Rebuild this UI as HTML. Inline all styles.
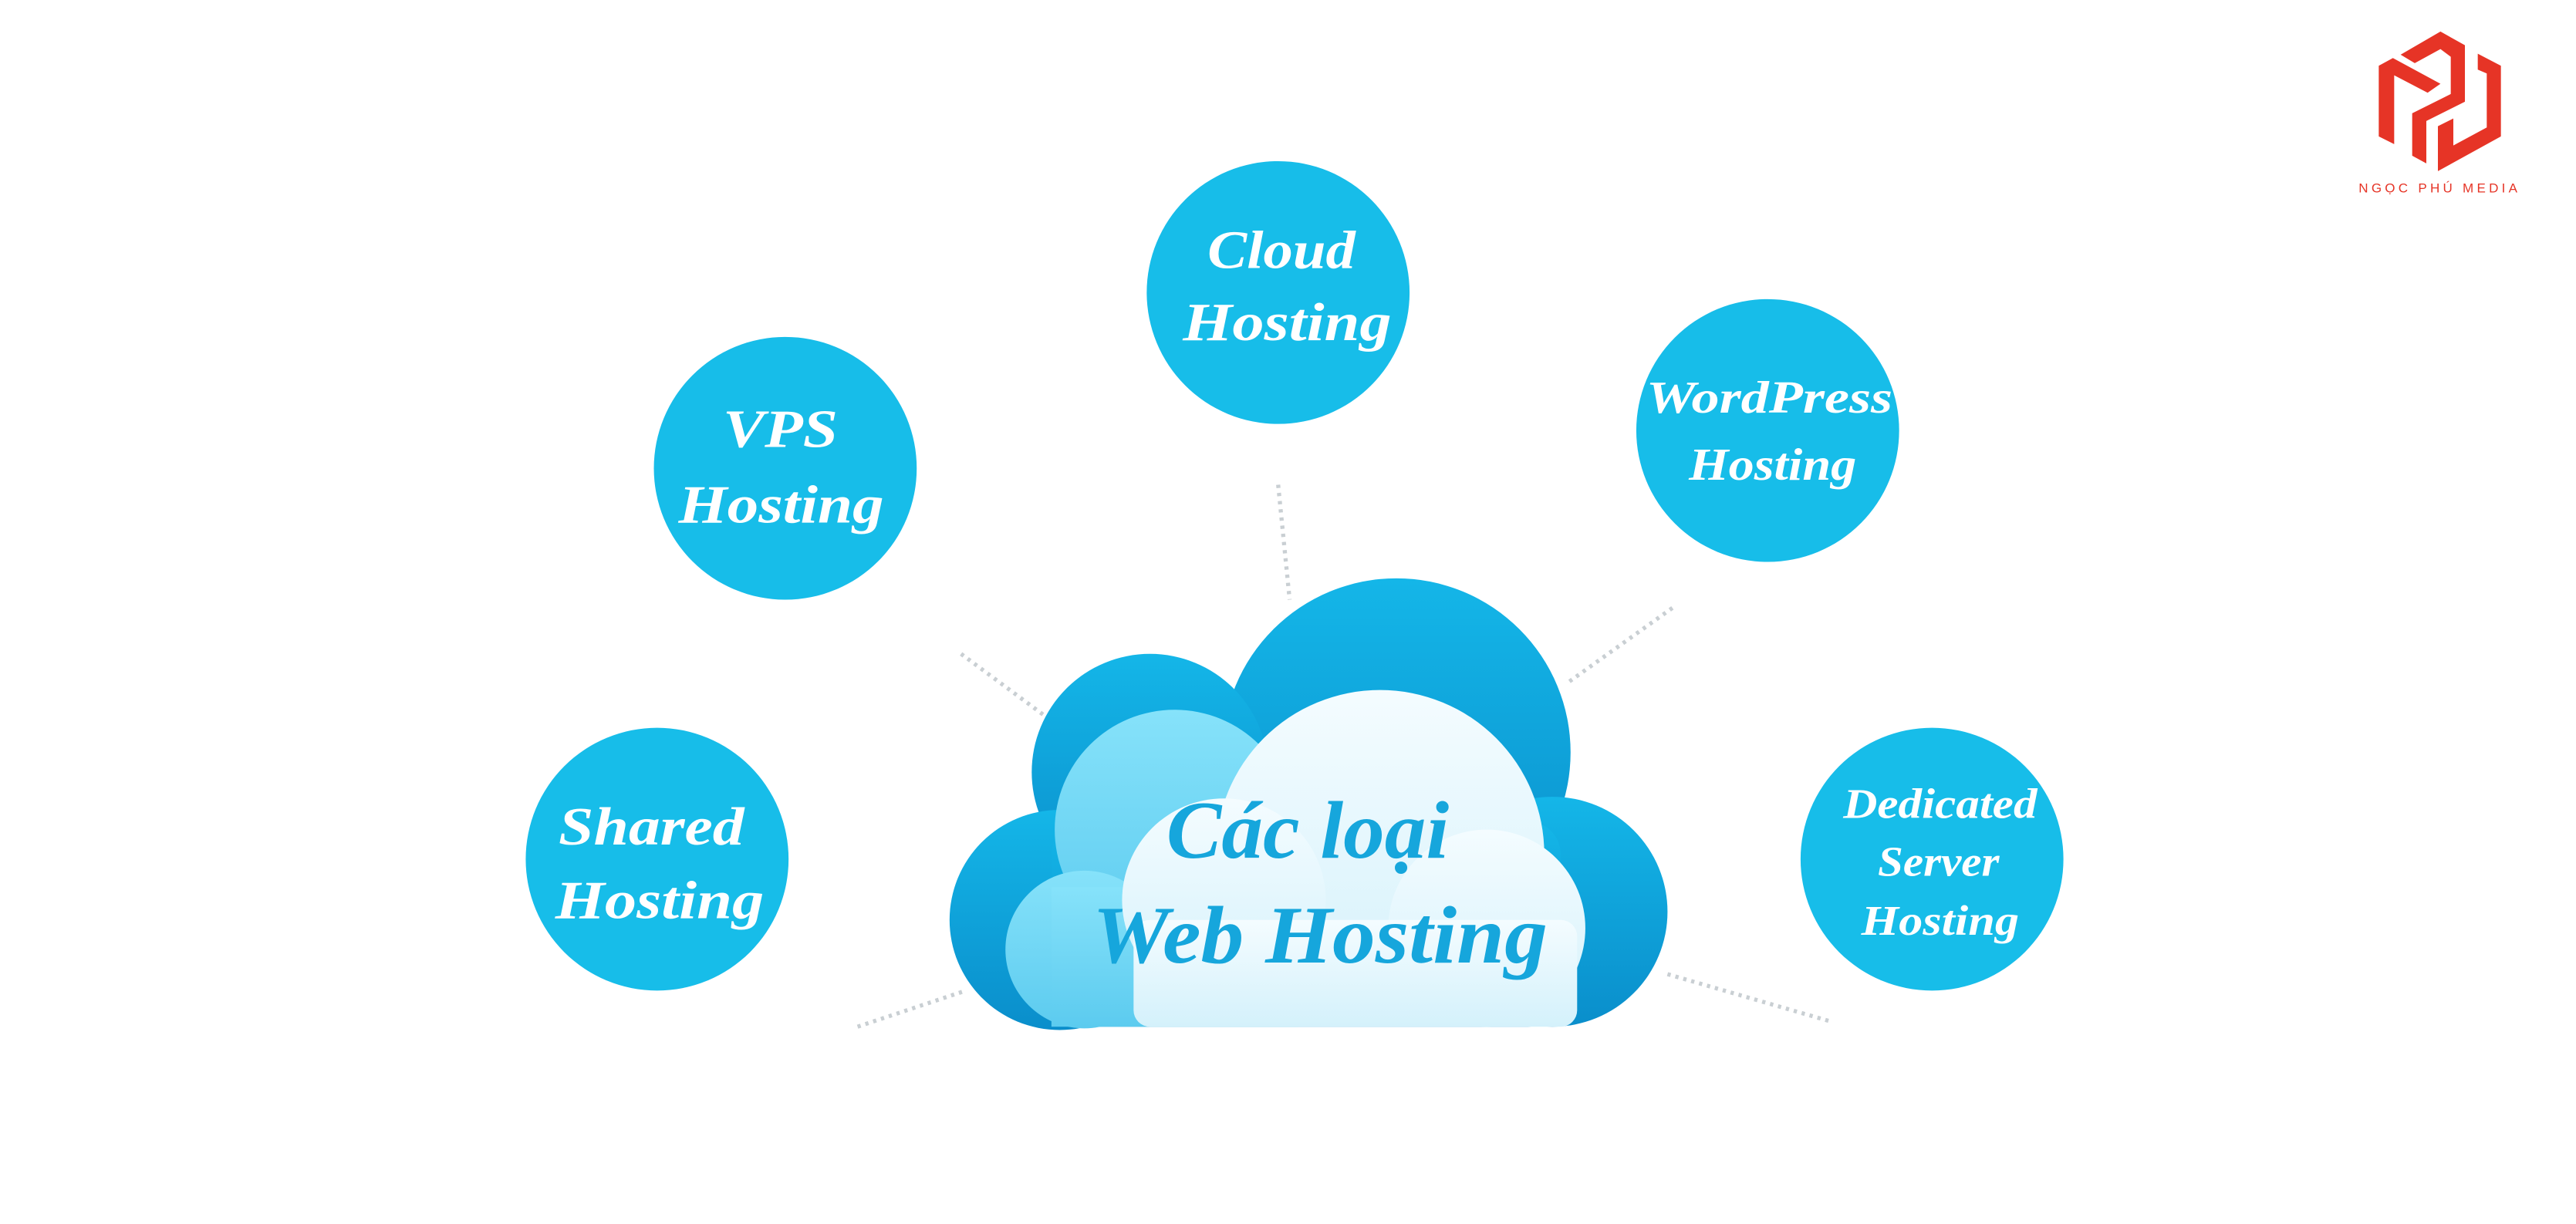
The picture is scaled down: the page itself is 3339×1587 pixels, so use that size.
<!DOCTYPE html>
<html><head><meta charset="utf-8"><style>
html,body{margin:0;padding:0;background:#fff}
svg{display:block}
.n{font-family:"Liberation Serif",serif;font-style:italic;font-weight:bold;fill:#fff}
</style></head><body>
<svg width="3339" height="1587" viewBox="0 0 1568 745" xmlns="http://www.w3.org/2000/svg">
<defs>
<linearGradient id="gd" x1="0" y1="0" x2="0" y2="1"><stop offset="0" stop-color="#14b6e8"/><stop offset="1" stop-color="#0a8ecb"/></linearGradient>
<linearGradient id="gm" x1="0" y1="0" x2="0" y2="1"><stop offset="0" stop-color="#86e2fa"/><stop offset="1" stop-color="#5ccbef"/></linearGradient>
<linearGradient id="gw" x1="0" y1="0" x2="0" y2="1"><stop offset="0" stop-color="#f4fcff"/><stop offset="1" stop-color="#d4f1fb"/></linearGradient>
</defs>
<g stroke="#c9cfd3" stroke-width="2.5" stroke-dasharray="2 3" fill="none">
<line x1="778" y1="295" x2="785" y2="365"/>
<line x1="585" y1="398" x2="635" y2="435"/>
<line x1="1018" y1="370" x2="955" y2="415"/>
<line x1="522" y1="625" x2="588" y2="603"/>
<line x1="1015" y1="593" x2="1115" y2="622"/>
</g>
<g fill="url(#gd)">
<circle cx="850" cy="458" r="106"/>
<circle cx="700" cy="470" r="72"/>
<circle cx="645" cy="560" r="67"/>
<circle cx="945" cy="555" r="70"/>
<rect x="640" y="500" width="310" height="125" rx="20"/>
</g>
<g fill="url(#gm)">
<circle cx="715" cy="505" r="73"/>
<circle cx="660" cy="578" r="48"/>
<rect x="640" y="540" width="150" height="85"/>
</g>
<g fill="url(#gw)">
<circle cx="840" cy="520" r="100"/>
<circle cx="745" cy="548" r="62"/>
<circle cx="905" cy="565" r="60"/>
<rect x="690" y="560" width="270" height="65" rx="10"/>
</g>
<text class="n" style="fill:#16a6dc" x="710" y="522" font-size="50" textLength="172" lengthAdjust="spacingAndGlyphs">Các loại</text>
<text class="n" style="fill:#16a6dc" x="665" y="586" font-size="50" textLength="277" lengthAdjust="spacingAndGlyphs">Web Hosting</text>
<g fill="#17bde9">
<circle cx="778" cy="178" r="80"/>
<circle cx="478" cy="285" r="80"/>
<circle cx="1076" cy="262" r="80"/>
<circle cx="400" cy="523" r="80"/>
<circle cx="1176" cy="523" r="80"/>
</g>
<g font-size="33">
<text class="n" x="735" y="163" textLength="90" lengthAdjust="spacingAndGlyphs">Cloud</text>
<text class="n" x="720" y="207" textLength="127" lengthAdjust="spacingAndGlyphs">Hosting</text>
<text class="n" x="440" y="272" textLength="70" lengthAdjust="spacingAndGlyphs">VPS</text>
<text class="n" x="413" y="318" textLength="125" lengthAdjust="spacingAndGlyphs">Hosting</text>
<text class="n" x="340" y="514" textLength="113" lengthAdjust="spacingAndGlyphs">Shared</text>
<text class="n" x="338" y="559" textLength="127" lengthAdjust="spacingAndGlyphs">Hosting</text>
</g>
<g font-size="28">
<text class="n" x="1002" y="251" textLength="150" lengthAdjust="spacingAndGlyphs">WordPress</text>
<text class="n" x="1028" y="292" textLength="102" lengthAdjust="spacingAndGlyphs">Hosting</text>
</g>
<g font-size="26">
<text class="n" x="1122" y="498" textLength="118" lengthAdjust="spacingAndGlyphs">Dedicated</text>
<text class="n" x="1143" y="533" textLength="74" lengthAdjust="spacingAndGlyphs">Server</text>
<text class="n" x="1133" y="569" textLength="96" lengthAdjust="spacingAndGlyphs">Hosting</text>
</g>
<g fill="#e63426" transform="translate(1418.2,9.39) scale(0.15653)">
<polygon points="190,195 245,165 430,265 380,300 250,232 250,500 190,470"/>
<polygon points="275,152 430,62 525,115 525,335 375,410 375,575 320,545 320,380 470,305 470,160 430,130 330,185"/>
<polygon points="575,148 665,195 665,470 420,605 420,430 480,400 480,505 610,435 610,225 575,210"/>
</g>
<text x="1485" y="117" font-size="8" fill="#e63426" text-anchor="middle" font-family="Liberation Sans,sans-serif" letter-spacing="2">NGỌC PHÚ MEDIA</text>
</svg>
</body></html>
